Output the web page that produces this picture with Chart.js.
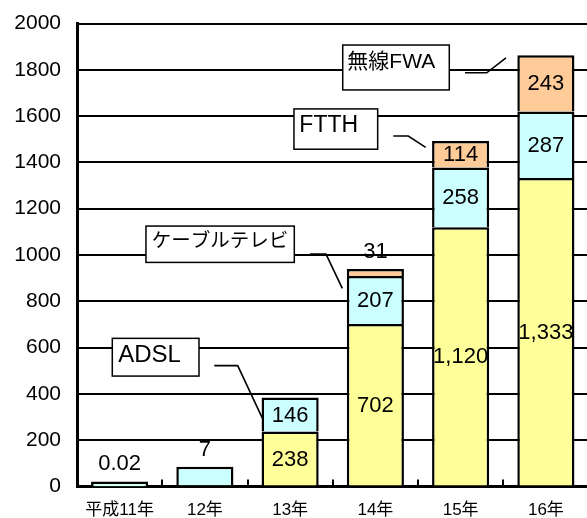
<!DOCTYPE html>
<html>
<head>
<meta charset="utf-8">
<script src="https://cdn.jsdelivr.net/npm/chart.js@4/dist/chart.umd.min.js"></script>
<style>
  html, body { margin: 0; padding: 0; background: #fff; overflow: hidden; }
  #wrap { width: 587px; height: 518px; overflow: hidden; position: relative; }
  canvas { display: block; }
</style>
</head>
<body>
<div id="wrap"><canvas id="c" width="592" height="518"></canvas></div>
<script>
// Broadband subscribers (万) by year-end
const years = ['平成11年', '12年', '13年', '14年', '15年', '16年'];
const adsl  = [0.02, 7, 238, 702, 1120, 1333];
const catv  = [22, 78, 146, 207, 258, 287];
const ftth  = [0, 0, 0, 31, 114, 243];

// which segments carry a printed value
const adslShown = [true, true, true, true, true, true];
const catvShown = [false, false, true, true, true, true];
const ftthShown = [false, false, false, true, true, true];

const yMin = 0, yMax = 2000, yStep = 200;

const FONT = "'Liberation Sans', 'Noto Sans CJK JP', sans-serif";

// Callout boxes: x in category units, y in data units
const callouts = [
  { text: 'ADSL', size: 24, box: [-0.086, 640, 0.931, 477], at: [-0.016, 539],
    line: [[1.110, 522], [1.385, 522], [1.674, 295]] },
  { text: 'ケーブルテレビ', size: 19.5, box: [0.309, 1125, 2.049, 968], at: [0.376, 1035],
    line: [[2.233, 1004], [2.421, 1004], [2.612, 856]] },
  { text: 'FTTH', size: 23, box: [2.045, 1631, 3.027, 1457], at: [2.108, 1530],
    line: [[3.210, 1514], [3.386, 1514], [3.590, 1465]] },
  { text: '無線FWA', size: 21, box: [2.617, 1907, 3.867, 1713], at: [2.671, 1809],
    line: [[4.051, 1787], [4.306, 1787], [4.532, 1852]] }
];

function fmt(v) {
  return v >= 1000 ? v.toLocaleString('en-US') : String(v);
}

const overlay = {
  id: 'overlay',
  afterDraw(chart) {
    const ctx = chart.ctx;
    const xs = chart.scales.x, ys = chart.scales.y;
    const area = chart.chartArea;
    const px = v => xs.getPixelForValue(0) + v * (xs.getPixelForValue(1) - xs.getPixelForValue(0));
    const py = v => ys.getPixelForValue(v);

    ctx.save();
    // category boundary ticks on the x axis, pointing inward
    const step = xs.getPixelForValue(1) - xs.getPixelForValue(0);
    ctx.strokeStyle = '#000';
    ctx.lineWidth = 2;
    for (let i = 1; i < years.length; i++) {
      const x = Math.round(xs.getPixelForValue(i) - step / 2);
      ctx.beginPath();
      ctx.moveTo(x, area.bottom);
      ctx.lineTo(x, area.bottom - 7);
      ctx.stroke();
    }

    // value labels
    const shown = [adslShown, catvShown, ftthShown];
    ctx.fillStyle = '#000';
    ctx.font = '22px ' + FONT;
    ctx.textAlign = 'center';
    ctx.textBaseline = 'middle';
    chart.data.datasets.forEach((ds, i) => {
      const meta = chart.getDatasetMeta(i);
      meta.data.forEach((bar, j) => {
        const v = ds.data[j];
        if (!shown[i][j] || !v) return;
        const h = bar.base - bar.y;
        if (h >= 20) {
          ctx.fillText(fmt(v), bar.x, (bar.y + bar.base) / 2 + 1);
        } else {
          let top = Infinity;
          chart.data.datasets.forEach((d, k) => {
            const b = chart.getDatasetMeta(k).data[j];
            if (d.data[j]) top = Math.min(top, b.y);
          });
          ctx.fillText(fmt(v), bar.x, top - 17);
        }
      });
    });

    // callouts
    ctx.textAlign = 'left';
    ctx.textBaseline = 'alphabetic';
    callouts.forEach(c => {
      const x1 = px(c.box[0]), y1 = py(c.box[1]);
      const x2 = px(c.box[2]), y2 = py(c.box[3]);
      ctx.fillStyle = '#fff';
      ctx.fillRect(x1, y1, x2 - x1, y2 - y1);
      ctx.strokeStyle = '#000';
      ctx.lineWidth = 1.5;
      ctx.strokeRect(x1, y1, x2 - x1, y2 - y1);
      ctx.fillStyle = '#000';
      ctx.font = c.size + 'px ' + FONT;
      ctx.fillText(c.text, px(c.at[0]), py(c.at[1]));
      ctx.beginPath();
      c.line.forEach((p, k) => {
        const X = px(p[0]), Y = py(p[1]);
        if (k === 0) ctx.moveTo(X, Y); else ctx.lineTo(X, Y);
      });
      ctx.lineWidth = 1.6;
      ctx.stroke();
    });
    ctx.restore();
  }
};

const barStyle = { borderColor: '#000', borderWidth: 2.5, barPercentage: 0.67, categoryPercentage: 1.0 };

new Chart(document.getElementById('c'), {
  type: 'bar',
  data: {
    labels: years,
    datasets: [
      Object.assign({ label: 'ADSL', data: adsl, backgroundColor: '#FFFF99' }, barStyle),
      Object.assign({ label: 'ケーブルテレビ', data: catv, backgroundColor: '#CCFFFF' }, barStyle),
      Object.assign({ label: 'FTTH', data: ftth, backgroundColor: '#FFCC99' }, barStyle)
    ]
  },
  options: {
    responsive: false,
    animation: false,
    devicePixelRatio: 1,
    layout: { padding: { top: 23.5, right: 3.5, left: 0, bottom: 0 } },
    plugins: { legend: { display: false }, tooltip: { enabled: false } },
    scales: {
      x: {
        stacked: true,
        z: 1,
        grid: { display: false },
        border: { display: true, color: '#000', width: 3 },
        ticks: { color: '#000', font: { family: FONT, size: 17 }, padding: 6, maxRotation: 0 },
        afterFit(scale) { scale.height = 31.5; scale.paddingLeft = 0; scale.paddingRight = 0; }
      },
      y: {
        stacked: true,
        min: yMin, max: yMax,
        grid: { color: '#000', lineWidth: 2, drawTicks: false },
        border: { display: true, color: '#000', width: 3 },
        ticks: { stepSize: yStep, color: '#000', font: { family: FONT, size: 21 }, padding: 16,
                 callback: v => String(v) },
        afterFit(scale) { scale.width = 77; scale.paddingTop = 0; scale.paddingBottom = 0; }
      }
    }
  },
  plugins: [overlay]
});
</script>
</body>
</html>
